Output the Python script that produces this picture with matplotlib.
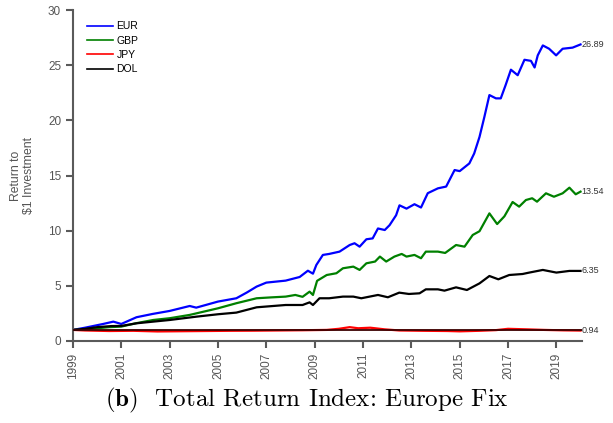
import matplotlib
matplotlib.use("Agg")
import matplotlib.pyplot as plt

# ---- data ----
eur_t = [1999.0, 1999.5, 2000.25, 2000.67, 2001.0, 2001.63, 2002.3, 2003.0, 2003.83, 2004.1,
         2005.0, 2005.76, 2006.2, 2006.6, 2007.0, 2007.8, 2008.38, 2008.72, 2008.93, 2009.07,
         2009.34, 2009.6, 2010.03, 2010.45, 2010.65, 2010.86, 2011.14, 2011.4, 2011.62, 2011.9,
         2012.1, 2012.37, 2012.51, 2012.8, 2013.13, 2013.4, 2013.68, 2014.1, 2014.44, 2014.79,
         2015.0, 2015.4, 2015.6, 2015.82, 2016.02, 2016.23, 2016.5, 2016.7, 2016.9, 2017.12,
         2017.4, 2017.68, 2017.95, 2018.1, 2018.23, 2018.44, 2018.7, 2018.99, 2019.26, 2019.67, 2020.0]
eur_v = [1.0, 1.2, 1.54, 1.75, 1.54, 2.15, 2.45, 2.72, 3.17, 3.02,
         3.57, 3.87, 4.4, 4.93, 5.29, 5.47, 5.8, 6.37, 6.1, 6.89,
         7.8, 7.89, 8.1, 8.7, 8.86, 8.55, 9.22, 9.3, 10.2, 10.06,
         10.5, 11.4, 12.3, 12.0, 12.4, 12.1, 13.4, 13.84, 14.0, 15.5,
         15.4, 16.1, 17.0, 18.5, 20.3, 22.3, 22.0, 22.0, 23.2, 24.6,
         24.1, 25.5, 25.4, 24.8, 25.9, 26.8, 26.5, 25.9, 26.5, 26.6, 26.89]

gbp_t = [1999.0, 1999.5, 2000.0, 2000.5, 2001.0, 2001.6, 2002.32, 2003.0, 2003.83, 2004.3,
         2005.0, 2005.76, 2006.6, 2007.2, 2007.8, 2008.2, 2008.5, 2008.79, 2008.93, 2009.1,
         2009.5, 2009.9, 2010.17, 2010.6, 2010.86, 2011.14, 2011.5, 2011.7, 2011.96, 2012.3,
         2012.6, 2012.8, 2013.13, 2013.4, 2013.6, 2014.1, 2014.4, 2014.85, 2015.2, 2015.54,
         2015.82, 2016.23, 2016.55, 2016.85, 2017.19, 2017.46, 2017.74, 2018.0, 2018.2, 2018.57,
         2018.9, 2019.26, 2019.54, 2019.8, 2020.0]
gbp_v = [1.0, 1.05, 1.15, 1.25, 1.30, 1.6, 1.9, 2.06, 2.36, 2.6,
         2.96, 3.42, 3.87, 3.95, 4.02, 4.17, 4.0, 4.47, 4.17, 5.45,
         5.98, 6.14, 6.59, 6.74, 6.44, 7.04, 7.2, 7.65, 7.2, 7.65,
         7.89, 7.65, 7.8, 7.5, 8.1, 8.1, 7.98, 8.7, 8.55, 9.61,
         9.95, 11.57, 10.6, 11.3, 12.6, 12.18, 12.78, 12.94, 12.63, 13.39,
         13.08, 13.39, 13.9, 13.3, 13.54]

jpy_t = [1999.0, 1999.5, 2000.5, 2001.5, 2002.5, 2003.5, 2004.5, 2005.5, 2006.5, 2007.5,
         2008.5, 2009.5, 2010.0, 2010.45, 2010.8, 2011.3, 2011.9, 2012.5, 2013.5, 2014.5,
         2015.0, 2015.8, 2016.5, 2017.0, 2017.8, 2018.5, 2019.3, 2020.0]
jpy_v = [1.0, 0.95, 0.9, 0.92, 0.86, 0.88, 0.9, 0.92, 0.93, 0.95,
         0.97, 1.0, 1.1, 1.25, 1.15, 1.2, 1.05, 0.95, 0.92, 0.9,
         0.87, 0.92, 0.98, 1.1, 1.05, 1.0, 0.96, 0.94]

dol_t = [1999.0, 1999.5, 2000.0, 2000.6, 2001.0, 2001.63, 2003.0, 2004.1, 2005.0, 2005.76,
         2006.6, 2007.8, 2008.5, 2008.79, 2008.93, 2009.2, 2009.6, 2010.17, 2010.6, 2010.93,
         2011.62, 2012.03, 2012.5, 2012.9, 2013.34, 2013.6, 2014.1, 2014.37, 2014.85, 2015.3,
         2015.82, 2016.23, 2016.6, 2017.05, 2017.6, 2017.88, 2018.44, 2019.0, 2019.54, 2020.0]
dol_v = [1.0, 1.1, 1.25, 1.35, 1.36, 1.6, 1.9, 2.2, 2.42, 2.57,
         3.05, 3.26, 3.26, 3.5, 3.26, 3.87, 3.87, 4.02, 4.02, 3.87,
         4.17, 3.96, 4.38, 4.26, 4.32, 4.68, 4.68, 4.56, 4.86, 4.62,
         5.22, 5.89, 5.59, 5.98, 6.07, 6.2, 6.44, 6.2, 6.35, 6.35]

end_labels = ["26.89", "13.54", "0.94", "6.35"]
xticks = list(range(1999, 2020, 2))
yticks = [0, 5, 10, 15, 20, 25, 30]

plt.rcParams['font.family'] = ['Liberation Sans', 'DejaVu Sans']
plt.rcParams['mathtext.fontset'] = 'cm'

fig = plt.figure(figsize=(6.13, 4.23), dpi=100)
ax = fig.add_axes([0.119, 0.194, 0.830, 0.782])

grey = '#5a5a5a'
ax.axhline(1.0, color='#3a0000', lw=1.3, zorder=3)
series = [(eur_t, eur_v, 'blue', 'EUR'), (gbp_t, gbp_v, 'green', 'GBP'),
          (jpy_t, jpy_v, 'red', 'JPY'), (dol_t, dol_v, 'black', 'DOL')]
for (t, v, c, name), lab in zip(series, end_labels):
    ax.plot(t, v, color=c, lw=1.6, label=name, zorder=2)
    ax.text(t[-1] + 0.05, v[-1], lab, fontsize=6.5, color='#333333', va='center', ha='left')

ax.set_xlim(1999, 2020.05)
ax.set_ylim(0, 30)
ax.set_xticks(xticks)
ax.set_xticklabels([str(x) for x in xticks], rotation=90)
ax.set_yticks(yticks)
for s in ['top', 'right']:
    ax.spines[s].set_visible(False)
for s in ['left', 'bottom']:
    ax.spines[s].set_color(grey)
    ax.spines[s].set_linewidth(1.5)
ax.tick_params(axis='both', colors=grey, width=1.5, length=5, labelsize=8.5, labelcolor='#555555')
ax.set_ylabel('Return to\n$1 Investment', fontsize=8.8, color='#555555', labelpad=9,
              linespacing=1.1)

leg = ax.legend(loc='upper left', frameon=False, fontsize=7.5, handlelength=2.5,
                bbox_to_anchor=(0.01, 0.995), labelspacing=0.42, handletextpad=0.3)
for line in leg.get_lines():
    line.set_linewidth(1.2)

fig.text(0.5, 0.018, r'$\mathbf{(b)}$  Total Return Index: Europe Fix', family='cmr10',
         ha='center', va='bottom', fontsize=18)

fig.savefig('out.png', dpi=100)
